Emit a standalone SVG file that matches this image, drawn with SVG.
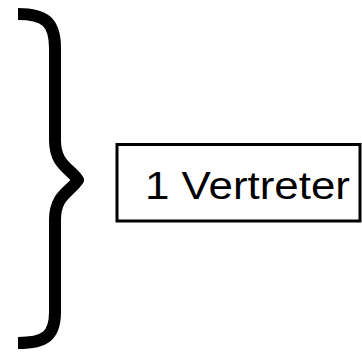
<svg xmlns="http://www.w3.org/2000/svg" width="362" height="354" viewBox="0 0 362 354">
<style>
.brace{fill:none;stroke:#000;stroke-width:12;stroke-linejoin:round}
.box{fill:#fff;stroke:#000;stroke-width:3}
.lbl{font-family:"Liberation Sans",Arial,sans-serif;font-size:39px;fill:#000}
</style>
<g id="brace">
<path class="brace" d="M18,14 C45,14 55,22 55,48 L55,140 C55,165 70,168 78,180 C70,192 55,195 55,220 L55,312 C55,336 45,343 18,343"/>
</g>
<g id="node1">
<rect class="box" x="117" y="144.5" width="243" height="76.5"/>
<text class="lbl" x="145" y="199" textLength="205" lengthAdjust="spacingAndGlyphs">1 Vertreter</text>
</g>
<g id="connectors"/>
</svg>
